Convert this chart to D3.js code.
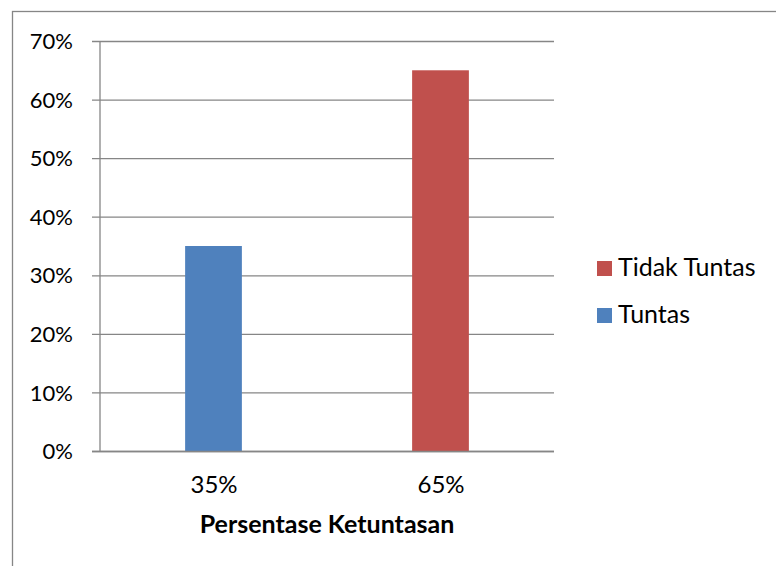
<!DOCTYPE html>
<html>
<head>
<meta charset="utf-8">
<script src="https://cdn.jsdelivr.net/npm/d3@7"></script>
<style>
  html, body { margin: 0; padding: 0; background: #fff; }
  svg { display: block; font-family: Lato, "Noto Sans", sans-serif; }
</style>
</head>
<body>
<svg id="chart" width="776" height="566"></svg>
<script>
// Persentase ketuntasan: one bar per category, coloured by series
const categories = ["35%", "65%"];
const seriesNames = ["Tuntas", "Tidak Tuntas"];
const values = [0.35, 0.65];
const seriesColors = ["#4F81BD", "#C0504D"];
const yTicks = [0, 0.1, 0.2, 0.3, 0.4, 0.5, 0.6, 0.7];
const xTitle = "Persentase Ketuntasan";
// legend lists the series in reverse order
const legendOrder = ["Tidak Tuntas", "Tuntas"];

const svg = d3.select("#chart");
const gridColor = "#868686";

// outer frame of the chart area
svg.append("rect")
  .attr("x", 12.5).attr("y", 11.5)
  .attr("width", 800).attr("height", 600)
  .attr("fill", "#fff")
  .attr("stroke", gridColor).attr("stroke-width", 1.3);

const plot = { left: 100, right: 554, top: 41, bottom: 451 };

const x = d3.scalePoint().domain(categories)
  .range([plot.left, plot.right]).padding(0.5);
const y = d3.scaleLinear().domain([0, 0.7]).range([plot.bottom, plot.top]);
const barWidth = x.step() * 0.25;

// horizontal gridlines with tick labels
const yAxis = d3.axisLeft(y)
  .tickValues(yTicks)
  .tickFormat(d3.format(".0%"))
  .tickSize(-(plot.right - plot.left))
  .tickPadding(0);

const gy = svg.append("g")
  .attr("transform", `translate(${plot.left},0)`)
  .call(yAxis);
gy.select(".domain").remove();
gy.selectAll(".tick line")
  .attr("x1", -8)
  .attr("stroke", gridColor).attr("stroke-width", 1.3);
gy.selectAll(".tick text")
  .attr("x", -27)
  .attr("dy", "0.35em")
  .attr("fill", "#000")
  .style("font-size", "22px")
  .style("font-family", "Lato, 'Noto Sans', sans-serif");

// vertical value axis line
svg.append("line")
  .attr("x1", plot.left).attr("x2", plot.left)
  .attr("y1", y(0.7)).attr("y2", y(0))
  .attr("stroke", gridColor).attr("stroke-width", 1.3);

// bars
svg.append("g").selectAll("rect")
  .data(categories)
  .join("rect")
  .attr("x", d => x(d) - barWidth / 2)
  .attr("y", (d, i) => y(values[i]))
  .attr("width", barWidth)
  .attr("height", (d, i) => y(0) - y(values[i]))
  .attr("fill", (d, i) => seriesColors[i]);

// category axis along the baseline
const xAxis = d3.axisBottom(x).tickSize(0).tickPadding(0);
const gx = svg.append("g")
  .attr("transform", `translate(0,${plot.bottom})`)
  .call(xAxis);
gx.select(".domain")
  .attr("d", `M${plot.left - 8},0.5H${plot.right}`)
  .attr("stroke", gridColor).attr("stroke-width", 1.3);
gx.selectAll(".tick text")
  .attr("y", 42).attr("dy", 0)
  .attr("fill", "#000")
  .style("font-size", "24px")
  .style("font-family", "Lato, 'Noto Sans', sans-serif");

// axis title
svg.append("text")
  .attr("x", (plot.left + plot.right) / 2)
  .attr("y", 533)
  .attr("text-anchor", "middle")
  .style("font-size", "25px")
  .style("font-weight", "bold")
  .text(xTitle);

// legend
const legend = svg.append("g").attr("transform", "translate(597,261)");
const li = legend.selectAll("g")
  .data(legendOrder)
  .join("g")
  .attr("transform", (d, i) => `translate(0,${i * 47})`);
li.append("rect")
  .attr("width", 15).attr("height", 15)
  .attr("fill", d => seriesColors[seriesNames.indexOf(d)]);
li.append("text")
  .attr("x", 21).attr("y", 15)
  .style("font-size", "25px")
  .text(d => d);
</script>
</body>
</html>
